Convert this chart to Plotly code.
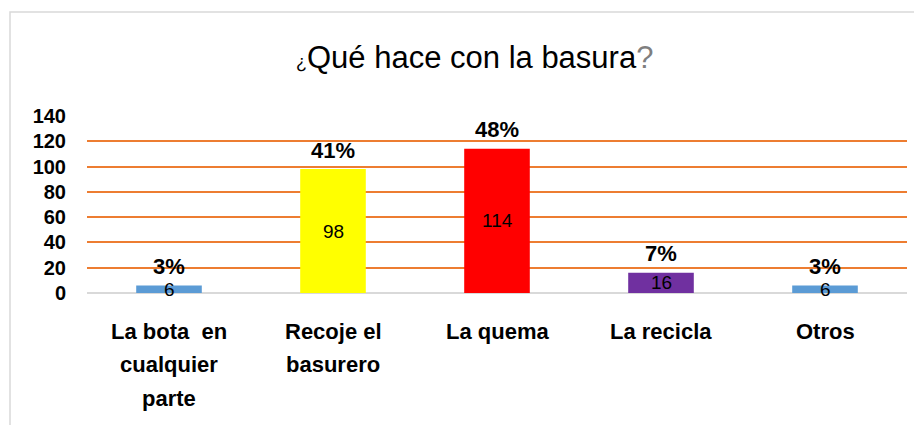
import plotly.graph_objects as go

categories = ["La bota  en<br>cualquier<br>parte", "Recoje el<br>basurero", "La quema", "La recicla", "Otros"]
values = [6, 98, 114, 16, 6]
percent_labels = ["3%", "41%", "48%", "7%", "3%"]
bar_colors = ["#5B9BD5", "#FFFF00", "#FF0000", "#7030A0", "#5B9BD5"]
y_ticks = [0, 20, 40, 60, 80, 100, 120, 140]

W, H = 922, 425
OFF = 8  # page body margin
L, R, T, B = 87 - OFF, 23, 116 - OFF, 140
pw, ph = W - L - R, H - T - B

x_idx = list(range(len(categories)))

fig = go.Figure()
fig.add_trace(go.Bar(
    x=x_idx, y=values, marker=dict(color=bar_colors, line=dict(width=0)),
    width=0.4, hoverinfo="skip", showlegend=False,
))

ann = []
for i, v in enumerate(values):
    ann.append(dict(x=i, y=v / 2, xref="x", yref="y", text=str(v), showarrow=False,
                    yanchor="middle", font=dict(family="Liberation Sans", size=19, color="#000")))
    ann.append(dict(x=i, y=v, xref="x", yref="y", text=percent_labels[i], showarrow=False,
                    yanchor="middle", yshift=19,
                    font=dict(family="Liberation Sans", size=22, color="#000", weight="bold")))
    for j, line in enumerate(categories[i].split("<br>")):
        ann.append(dict(x=i, y=0, xref="x", yref="paper", text=line, showarrow=False,
                        yanchor="middle", yshift=-(38 + 33.5 * j),
                        font=dict(family="Liberation Sans", size=22, color="#000", weight="bold")))

ann.append(dict(x=(474 - OFF - L) / pw, y=(H - (57 - OFF) - B) / ph, xref="paper", yref="paper", showarrow=False,
                xanchor="center", yanchor="middle",
                text="<span style='font-size:18px'>¿</span>Qué hace con la basura<span style='color:#7F7F7F'>?</span>",
                font=dict(family="Liberation Sans", size=31, color="#000")))

shapes = [dict(type="rect", xref="paper", yref="paper",
               x0=(10 - OFF - L) / pw, x1=(W + 20 - L) / pw,
               y0=-2, y1=(H - (12 - OFF) - B) / ph,
               line=dict(color="#D9D9D9", width=1.5), layer="below")]

fig.update_layout(
    width=W, height=H, margin=dict(l=L, r=R, t=T, b=B),
    paper_bgcolor="white", plot_bgcolor="white",
    annotations=ann, shapes=shapes, bargap=0.6,
    xaxis=dict(range=[-0.5, len(categories) - 0.5], showticklabels=False, showgrid=False,
               zeroline=False, showline=False, ticks=""),
    yaxis=dict(range=[0, 140], tickvals=y_ticks, showgrid=True, gridcolor="#ED7D31", gridwidth=1.6,
               zeroline=True, zerolinecolor="#D9D9D9", zerolinewidth=2, showline=False,
               ticklabelstandoff=20,
               tickfont=dict(family="Liberation Sans", size=20, color="#000", weight="bold")),
)

fig.write_html("out.html")
